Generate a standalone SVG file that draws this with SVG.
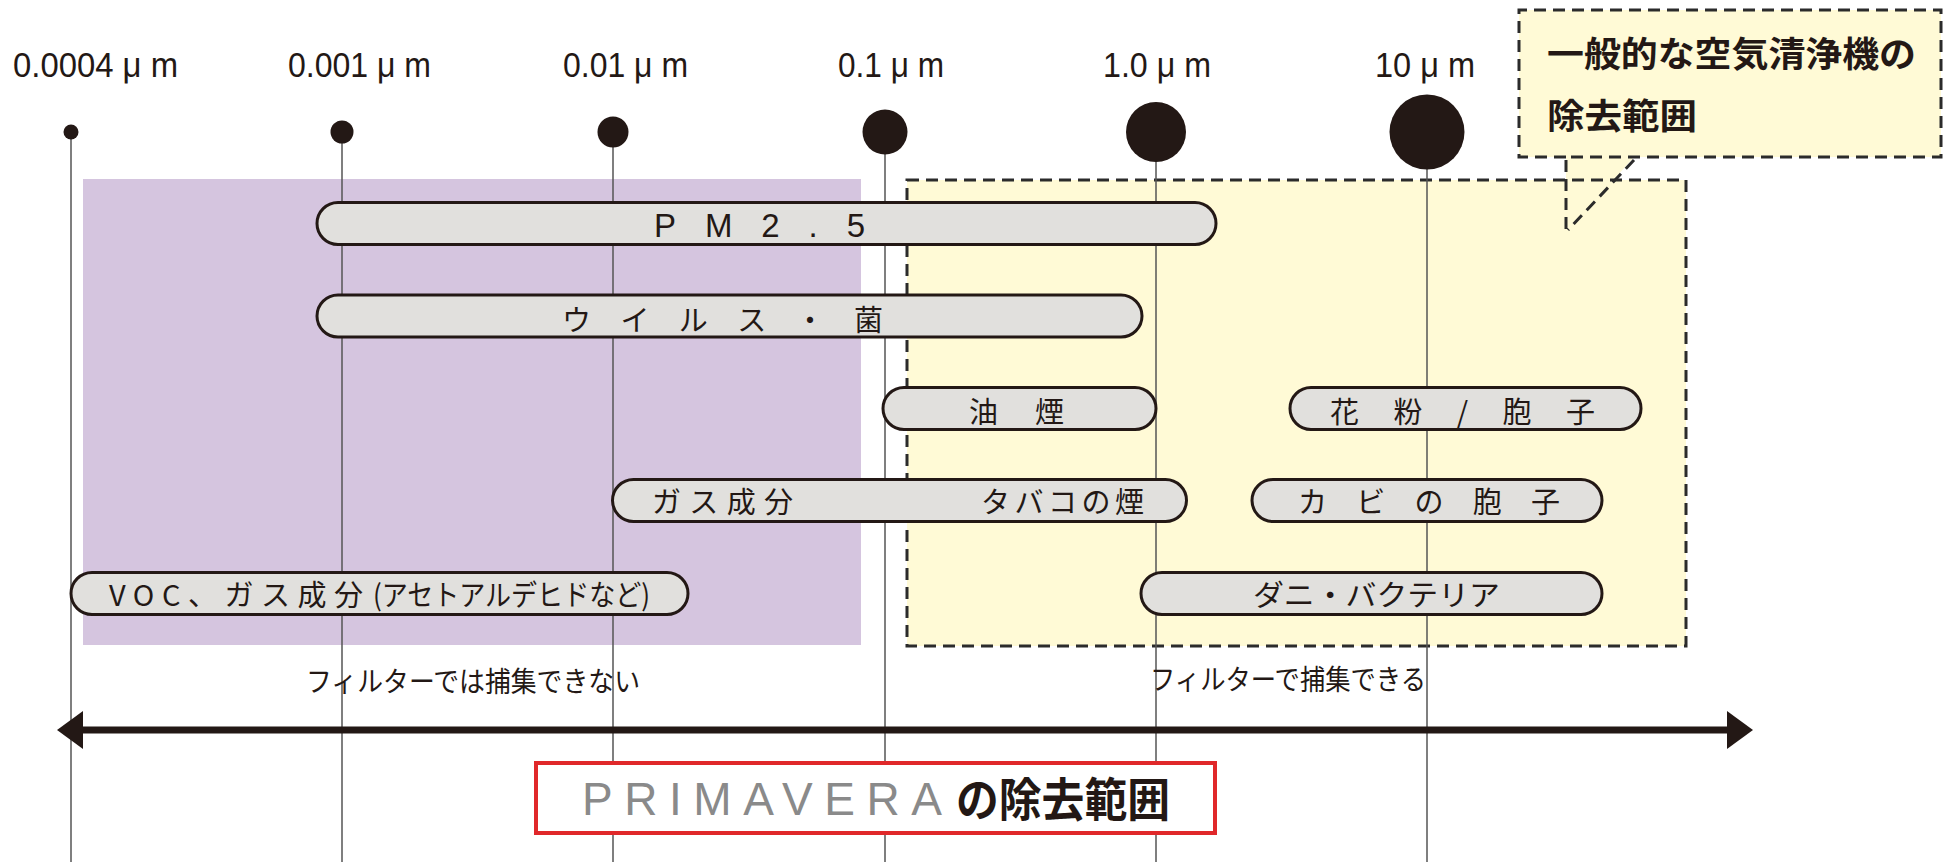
<svg xmlns="http://www.w3.org/2000/svg" width="1951" height="862" viewBox="0 0 1951 862">
<style>
.grid{stroke:#555;stroke-width:1.5}
.dot{fill:#231815}
.scale{font-family:"Liberation Sans","Noto Sans CJK JP",sans-serif;font-size:35px;fill:#231815}
.bar{fill:#e1e0dd;stroke:#231815;stroke-width:3}
.bt{font-family:"Noto Sans CJK JP","Liberation Sans",sans-serif;font-size:29px;fill:#231815}
.bl{font-family:"Liberation Sans","Noto Sans CJK JP",sans-serif;font-size:33px;fill:#231815}
.dash{fill:none;stroke:#2b2b2b;stroke-width:3;stroke-dasharray:12 7}
.note{font-family:"Noto Sans CJK JP",sans-serif;font-size:28px;fill:#231815}
.call{font-family:"Noto Sans CJK JP",sans-serif;font-size:35px;font-weight:bold;fill:#231815}
</style>
<defs>
<marker id="head" viewBox="0 0 26 38" refX="0" refY="19" markerWidth="26" markerHeight="38" markerUnits="userSpaceOnUse" orient="auto-start-reverse">
<path d="M0,0 L26,19 L0,38 z" fill="#231815"/>
</marker>
</defs>
<rect width="1951" height="862" fill="#ffffff"/>

<g id="zone-not-filterable">
<rect x="83" y="179" width="778" height="466" fill="#d5c5df"/>
</g>
<g id="zone-general-purifier">
<path d="M1566,157 L1566,233 L1634,157 z" fill="#fffad6"/>
<rect x="907" y="180" width="779" height="466" fill="#fffad6"/>
<path class="dash" d="M907,180 H1686 V646 H907 Z"/>
</g>

<g id="gridlines">
<line class="grid" x1="71" y1="132" x2="71" y2="862"/>
<line class="grid" x1="342" y1="132" x2="342" y2="862"/>
<line class="grid" x1="613" y1="132" x2="613" y2="862"/>
<line class="grid" x1="885" y1="132" x2="885" y2="862"/>
<line class="grid" x1="1156" y1="132" x2="1156" y2="862"/>
<line class="grid" x1="1427" y1="132" x2="1427" y2="862"/>
</g>

<g id="scale-00004"><circle class="dot" cx="71" cy="132" r="7.5"/><text class="scale" x="13" y="77" textLength="165" lengthAdjust="spacingAndGlyphs">0.0004 μ m</text></g>
<g id="scale-0001"><circle class="dot" cx="342" cy="132" r="11.5"/><text class="scale" x="288" y="77" textLength="143" lengthAdjust="spacingAndGlyphs">0.001 μ m</text></g>
<g id="scale-001"><circle class="dot" cx="613" cy="132" r="15.5"/><text class="scale" x="563" y="77" textLength="125" lengthAdjust="spacingAndGlyphs">0.01 μ m</text></g>
<g id="scale-01"><circle class="dot" cx="885" cy="132" r="22.5"/><text class="scale" x="838" y="77" textLength="106" lengthAdjust="spacingAndGlyphs">0.1 μ m</text></g>
<g id="scale-1"><circle class="dot" cx="1156" cy="132" r="30"/><text class="scale" x="1103" y="77" textLength="108" lengthAdjust="spacingAndGlyphs">1.0 μ m</text></g>
<g id="scale-10"><circle class="dot" cx="1427" cy="132" r="37.5"/><text class="scale" x="1375" y="77" textLength="100" lengthAdjust="spacingAndGlyphs">10 μ m</text></g>

<g id="callout">
<rect x="1519" y="10" width="422" height="147" fill="#fffad6"/>
<path class="dash" d="M1566,157 H1519 V10 H1941 V157 H1566"/>
<path class="dash" d="M1566,160 V233 M1634,160 L1568,230"/>
<text class="call" x="1547" y="67" textLength="369" lengthAdjust="spacingAndGlyphs">一般的な空気清浄機の</text>
<text class="call" x="1547" y="129" textLength="150" lengthAdjust="spacingAndGlyphs">除去範囲</text>
</g>

<g id="bar-pm25"><rect class="bar" x="317" y="202.5" width="899" height="42" rx="21"/><text class="bl" x="654" y="237" textLength="211" lengthAdjust="spacing">PM2.5</text></g>
<g id="bar-virus"><rect class="bar" x="317" y="295" width="825" height="42" rx="21"/><text class="bt" x="562" y="331" textLength="321" lengthAdjust="spacing">ウイルス・菌</text></g>
<g id="bar-oil-smoke"><rect class="bar" x="883" y="387.5" width="273" height="42" rx="21"/><text class="bt" x="969" y="423" textLength="95" lengthAdjust="spacing">油煙</text></g>
<g id="bar-pollen"><rect class="bar" x="1290" y="387.5" width="351" height="42" rx="21"/><text class="bt" x="1330" y="423" textLength="265" lengthAdjust="spacing">花粉/胞子</text></g>
<g id="bar-gas-tobacco"><rect class="bar" x="612.5" y="479.5" width="574" height="42" rx="21"/><text class="bt" x="652" y="513" textLength="141" lengthAdjust="spacing">ガス成分</text><text class="bt" x="981" y="513" textLength="163" lengthAdjust="spacing">タバコの煙</text></g>
<g id="bar-mold"><rect class="bar" x="1252" y="479.5" width="350" height="42" rx="21"/><text class="bt" x="1298" y="513" textLength="262" lengthAdjust="spacing">カビの胞子</text></g>
<g id="bar-voc"><rect class="bar" x="71" y="572.5" width="617" height="42" rx="21"/><text class="bt" x="109" y="606" textLength="254" lengthAdjust="spacing">VOC、ガス成分</text><text class="bt" x="373" y="606" textLength="277" lengthAdjust="spacingAndGlyphs">(アセトアルデヒドなど)</text></g>
<g id="bar-mite"><rect class="bar" x="1141" y="572.5" width="461" height="42" rx="21"/><text class="bt" x="1253" y="606" textLength="247" lengthAdjust="spacingAndGlyphs">ダニ・バクテリア</text></g>

<g id="label-not-filterable"><text class="note" x="306" y="692" textLength="334" lengthAdjust="spacingAndGlyphs">フィルターでは捕集できない</text></g>
<g id="label-filterable"><text class="note" x="1150" y="690" textLength="276" lengthAdjust="spacingAndGlyphs">フィルターで捕集できる</text></g>

<g id="connectors">
<line x1="83" y1="730" x2="1727" y2="730" stroke="#231815" stroke-width="7" marker-start="url(#head)" marker-end="url(#head)"/>
</g>

<g id="primavera-range">
<rect x="536" y="763" width="679" height="70" fill="#ffffff" stroke="#e0282a" stroke-width="4"/>
<text x="582" y="815" font-family="Liberation Sans, sans-serif" font-size="46" fill="#8a8a8a" textLength="360" lengthAdjust="spacing">PRIMAVERA</text>
<text x="956" y="816" font-family="Noto Sans CJK JP, sans-serif" font-size="46" font-weight="bold" fill="#231815" textLength="214" lengthAdjust="spacingAndGlyphs">の除去範囲</text>
</g>
</svg>
